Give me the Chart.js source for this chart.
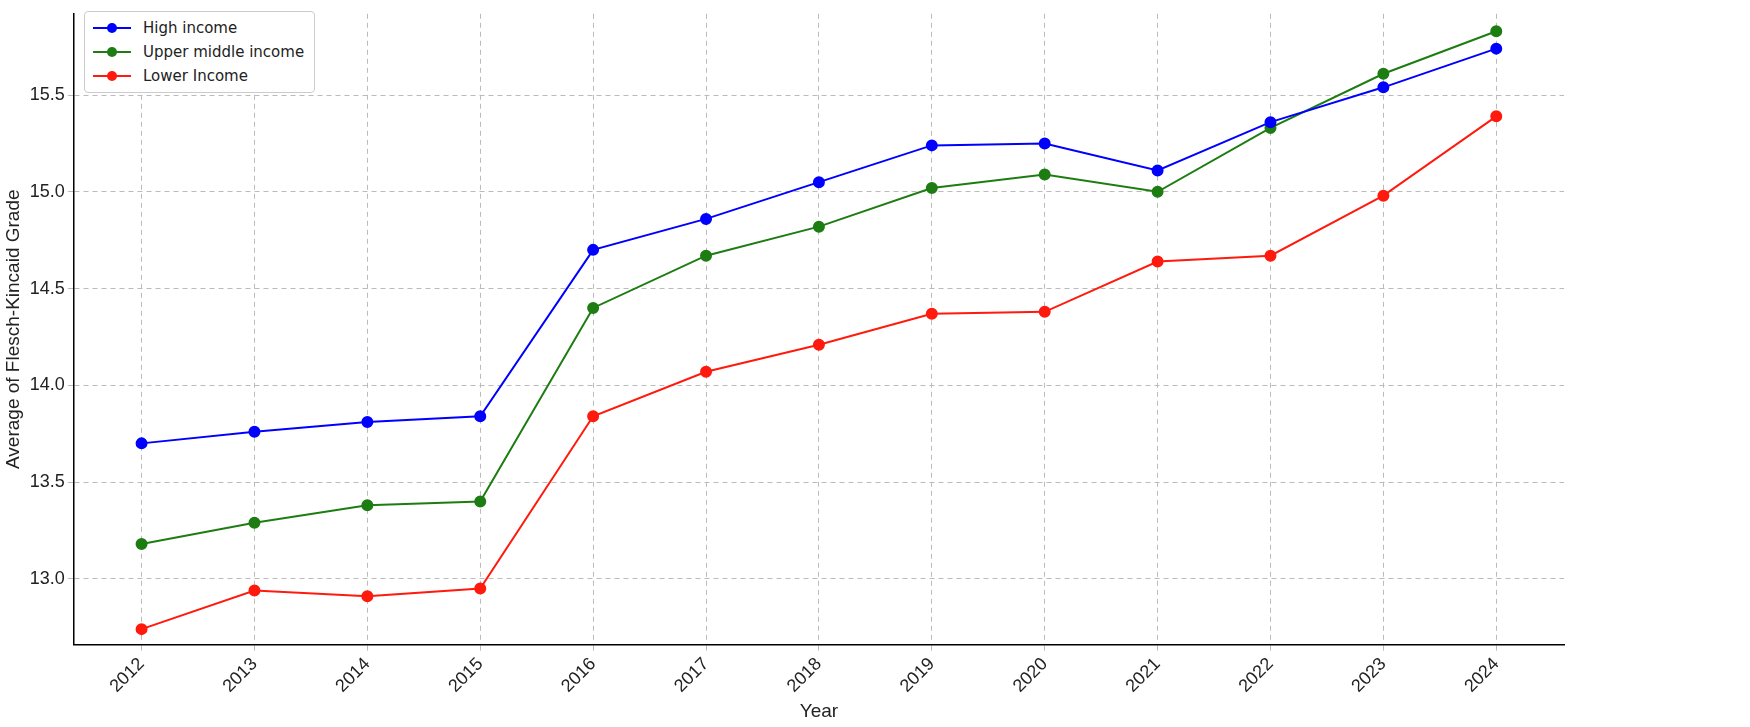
<!DOCTYPE html>
<html>
<head>
<meta charset="utf-8">
<script src="https://cdn.jsdelivr.net/npm/chart.js@4"></script>
<style>
body { margin: 0; background: #fff; font-family: "DejaVu Sans", sans-serif; }
#wrap { position: relative; width: 1750px; height: 727px; }
#legend { position: absolute; left: 84px; top: 11px; border: 1px solid #ccc; border-radius: 4px; background: #fff; padding: 4px 10px 4px 8px; font-size: 15px; color: #222; }
#legend div { display: flex; align-items: center; height: 24px; }
#legend span.sw { position: relative; width: 38px; height: 2px; margin-right: 12px; }
#legend span.sw i { position: absolute; left: 14px; top: -4px; width: 10px; height: 10px; border-radius: 50%; }
</style>
</head>
<body>
<div id="wrap">
<canvas id="myChart" width="1750" height="727"></canvas>
<div id="legend"></div>
</div>
<script>
const years = [2012, 2013, 2014, 2015, 2016, 2017, 2018, 2019, 2020, 2021, 2022, 2023, 2024];
const highIncome = [13.70, 13.76, 13.81, 13.84, 14.70, 14.86, 15.05, 15.24, 15.25, 15.11, 15.36, 15.54, 15.74];
const upperMiddle = [13.18, 13.29, 13.38, 13.40, 14.40, 14.67, 14.82, 15.02, 15.09, 15.00, 15.33, 15.61, 15.83];
const lowerIncome = [12.74, 12.94, 12.91, 12.95, 13.84, 14.07, 14.21, 14.37, 14.38, 14.64, 14.67, 14.98, 15.39];
const yTicks = [13.0, 13.5, 14.0, 14.5, 15.0, 15.5];

const series = [
    { label: 'High income', data: highIncome, color: '#0000ff' },
    { label: 'Upper middle income', data: upperMiddle, color: '#1e7d12' },
    { label: 'Lower Income', data: lowerIncome, color: '#ff1a0d' }
];

const legend = document.getElementById('legend');
series.forEach(s => {
    const row = document.createElement('div');
    row.innerHTML = `<span class="sw" style="background:${s.color}"><i style="background:${s.color}"></i></span>${s.label}`;
    legend.appendChild(row);
});

new Chart(document.getElementById('myChart').getContext('2d'), {
    type: 'line',
    data: {
        datasets: series.map(s => ({
            label: s.label,
            data: years.map((y, i) => ({ x: y, y: s.data[i] })),
            borderColor: s.color,
            backgroundColor: s.color,
            borderWidth: 2,
            pointRadius: 5,
            pointHoverRadius: 5,
            tension: 0
        }))
    },
    options: {
        responsive: false,
        animation: false,
        layout: { padding: { left: 0, right: 186, top: 4, bottom: 4 } },
        plugins: { legend: { display: false }, tooltip: { enabled: false } },
        scales: {
            x: {
                type: 'linear',
                min: 2011.4,
                max: 2024.6,
                afterBuildTicks: axis => { axis.ticks = years.map(v => ({ value: v })); },
                ticks: { maxRotation: 45, minRotation: 45, color: '#222', font: { size: 18 }, callback: v => String(v) },
                grid: { color: '#bbb', tickLength: 6 },
                border: { color: '#000', width: 1.5, dash: [5, 4] },
                title: { display: true, text: 'Year', color: '#222', font: { size: 19 }, padding: 0 }
            },
            y: {
                min: 12.66,
                max: 15.92,
                afterBuildTicks: axis => { axis.ticks = yTicks.map(v => ({ value: v })); },
                ticks: { color: '#222', font: { size: 18 }, callback: v => v.toFixed(1) },
                grid: { color: '#bbb', tickLength: 6 },
                border: { color: '#000', width: 1.5, dash: [5, 4] },
                title: { display: true, text: 'Average of Flesch-Kincaid Grade', color: '#222', font: { size: 19 }, padding: 2 }
            }
        }
    }
});
</script>
</body>
</html>
